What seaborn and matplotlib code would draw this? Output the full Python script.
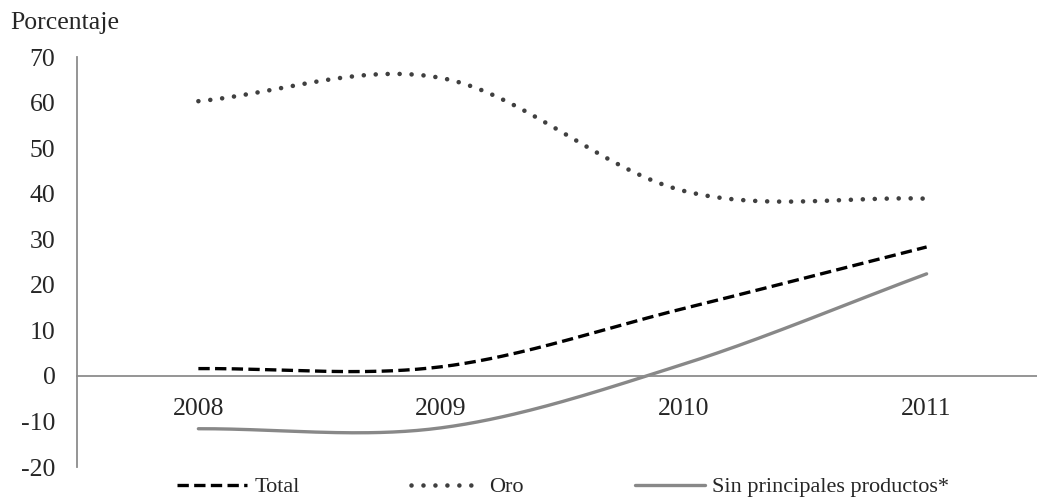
import numpy as np
import pandas as pd
import matplotlib
matplotlib.use("Agg")
import matplotlib.pyplot as plt
import seaborn as sns

#%% data (percent)
years = ['2008', '2009', '2010', '2011']
total = [1.6, 2.0, 14.8, 28.3]
oro = [60.3, 65.4, 40.6, 38.9]
sin_principales = [-11.6, -11.4, 2.6, 22.4]

series_names = ['Total', 'Oro', 'Sin principales productos*']


#%% smoothed curve like the spreadsheet "smoothed line" option
def smooth(vals, n=60):
    p = np.asarray(vals, dtype=float)
    k = len(p)
    m = np.zeros(k)
    m[1:-1] = (p[2:] - p[:-2]) / 2
    m[0] = p[1] - p[0]
    m[-1] = p[-1] - p[-2]
    xs, ys = [], []
    for i in range(k - 1):
        t = np.linspace(0, 1, n, endpoint=(i == k - 2))
        h00 = 2*t**3 - 3*t**2 + 1
        h10 = t**3 - 2*t**2 + t
        h01 = -2*t**3 + 3*t**2
        h11 = t**3 - t**2
        xs.append(i + t)
        ys.append(h00*p[i] + h10*m[i] + h01*p[i+1] + h11*m[i+1])
    return np.concatenate(xs), np.concatenate(ys)


#%% plot
sns.set_style("white")
plt.rcParams['font.family'] = ['Liberation Serif', 'DejaVu Serif']

fig = plt.figure(figsize=(10.37, 4.97), dpi=100)
ax = fig.add_axes([77/1037, 1 - 467/497, 971/1037, 410/497])

styles = [
    dict(color='black', lw=2.4, linestyle=(0, (3.4, 1.6))),
    dict(color='#404040', lw=3.3, linestyle=(0, (0.01, 2.6)), dash_capstyle='round'),
    dict(color='#888888', lw=2.4, linestyle='-'),
]
for name, vals, st in zip(series_names, [total, oro, sin_principales], styles):
    xs, ys = smooth(vals)
    sns.lineplot(x=xs, y=ys, ax=ax, label=name, **st)

ax.set_xlim(-0.5, 3.5)
ax.set_ylim(-20, 70)
ax.set_yticks(np.arange(-20, 71, 10))
ax.set_yticklabels([str(v) for v in range(-20, 71, 10)], fontsize=18.5)

# x axis crosses at zero, tick marks between categories, labels at centers
ax.spines['bottom'].set_position(('data', 0))
ax.set_xticks([0.5, 1.5, 2.5])
ax.set_xticklabels([])
ax.set_xticks(range(len(years)), minor=True)
ax.set_xticklabels(years, minor=True, fontsize=18.5)
ax.tick_params(axis='x', which='major', direction='out', length=5.5, width=1.2, color='#8c8c8c')
ax.tick_params(axis='x', which='minor', length=0, pad=16)
ax.tick_params(axis='y', direction='out', length=5.5, width=1.2, color='#8c8c8c', pad=10)

for s in ['top', 'right']:
    ax.spines[s].set_visible(False)
for s in ['left', 'bottom']:
    ax.spines[s].set_color('#8c8c8c')
    ax.spines[s].set_linewidth(1.3)
ax.grid(False)
ax.set_xlabel('')
ax.set_ylabel('')

fig.text(10/1037, 1 - 23/497, 'Porcentaje', ha='left', va='center', fontsize=18.5)

handles, labels = ax.get_legend_handles_labels()
ax.get_legend().remove()
fig.legend(handles, labels, loc='center', bbox_to_anchor=(0.543, 0.02), ncol=3,
           frameon=False, fontsize=16, handlelength=3.15, handletextpad=0.35,
           columnspacing=5.0, borderpad=0)

fig.savefig('out.png', dpi=100)
